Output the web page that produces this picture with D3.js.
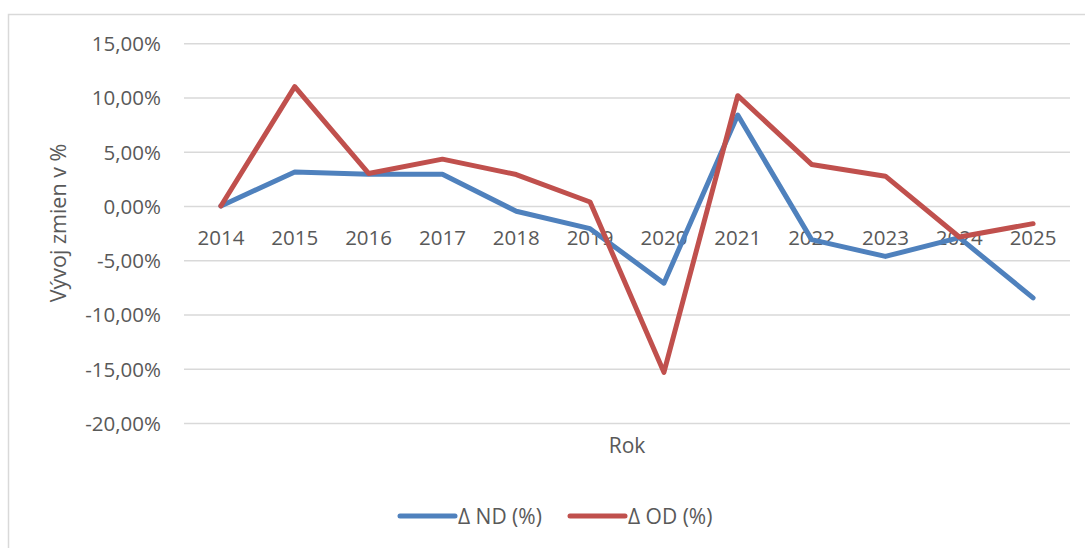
<!DOCTYPE html>
<head>
<meta charset="utf-8">
<style>
body, html {
  margin: 0;
  background: #fff;
  font-family: "Open Sans", sans-serif;
}
.grid line {
  stroke: #d9d9d9;
  stroke-width: 1.5;
}
.grid path { display: none; }
.tick text { fill: #595959; }
.label { fill: #595959; }
</style>
<script src="https://d3js.org/d3.v7.min.js"></script>
</head>
<body>
<script>

// data
var years = ["2014","2015","2016","2017","2018","2019","2020","2021","2022","2023","2024","2025"];
var nd = [0, 3.14, 2.93, 2.93, -0.49, -2.09, -7.12, 8.38, -3.1, -4.65, -2.92, -8.47];
var od = [0, 11.0, 3.0, 4.32, 2.9, 0.37, -15.34, 10.17, 3.83, 2.75, -2.86, -1.63];
var yTicks = [15, 10, 5, 0, -5, -10, -15, -20];
var seriesNames = ["\u0394 ND (%)", "\u0394 OD (%)"];
var colors = ["#4f81bd", "#c0504d"];

var width = 1085, height = 548;
var plot = {left: 184, right: 1070, top: 43.3, bottom: 422.9};

var svg = d3.select("body").append("svg")
    .attr("width", width)
    .attr("height", height);

// chart frame
svg.append("rect")
    .attr("x", 8.5).attr("y", 14.5)
    .attr("width", 1090).attr("height", 560)
    .attr("fill", "none")
    .attr("stroke", "#d9d9d9")
    .attr("stroke-width", 1.5);

var x = d3.scaleBand()
    .domain(years)
    .range([plot.left, plot.right]);

var y = d3.scaleLinear()
    .domain([-20, 15])
    .range([plot.bottom, plot.top]);

// gridlines + y labels (plain hyphen for negatives, comma decimals)
var yAxis = svg.append("g")
    .attr("class", "grid")
    .attr("transform", "translate(" + plot.left + ",0)")
    .call(d3.axisLeft(y)
        .tickValues(yTicks)
        .tickSize(-(plot.right - plot.left))
        .tickPadding(23)
        .tickFormat(function(d) { return d.toFixed(2).replace(".", ",") + "%"; }));
yAxis.selectAll("text")
    .style("font-size", "20.5px")
    .attr("font-family", "Open Sans")
    .attr("dy", "0.36em");

// x labels sit just under the zero line
var xAxis = svg.append("g")
    .attr("transform", "translate(0," + (y(0) + 39.5) + ")")
    .call(d3.axisBottom(x).tickSize(0).tickPadding(0));
xAxis.select(".domain").remove();
xAxis.selectAll("text")
    .attr("dy", 0)
    .style("font-size", "20.5px")
    .attr("font-family", "Open Sans");

var line = d3.line()
    .x(function(d, i) { return x(years[i]) + x.bandwidth() / 2; })
    .y(function(d) { return y(d); });

[nd, od].forEach(function(s, i) {
  svg.append("path")
      .datum(s)
      .attr("fill", "none")
      .attr("stroke", colors[i])
      .attr("stroke-width", 5)
      .attr("stroke-linejoin", "round")
      .attr("stroke-linecap", "round")
      .attr("d", line);
});

// axis titles
svg.append("text")
    .attr("class", "label")
    .attr("x", (plot.left + plot.right) / 2)
    .attr("y", 453)
    .attr("text-anchor", "middle")
    .style("font-size", "21px")
    .text("Rok");

svg.append("text")
    .attr("class", "label")
    .attr("transform", "translate(66,223) rotate(-90)")
    .attr("text-anchor", "middle")
    .style("font-size", "21.5px")
    .text("V\u00fdvoj zmien v %");

// legend
var legendX = [400, 570];
seriesNames.forEach(function(name, i) {
  var g = svg.append("g").attr("transform", "translate(" + legendX[i] + ",516)");
  g.append("line")
      .attr("x1", 0).attr("x2", 55)
      .attr("stroke", colors[i])
      .attr("stroke-width", 5)
      .attr("stroke-linecap", "round");
  g.append("text")
      .attr("class", "label")
      .attr("x", 58)
      .attr("dy", "0.36em")
      .style("font-size", "21px")
      .text(name);
});

</script>
</body>
</html>
